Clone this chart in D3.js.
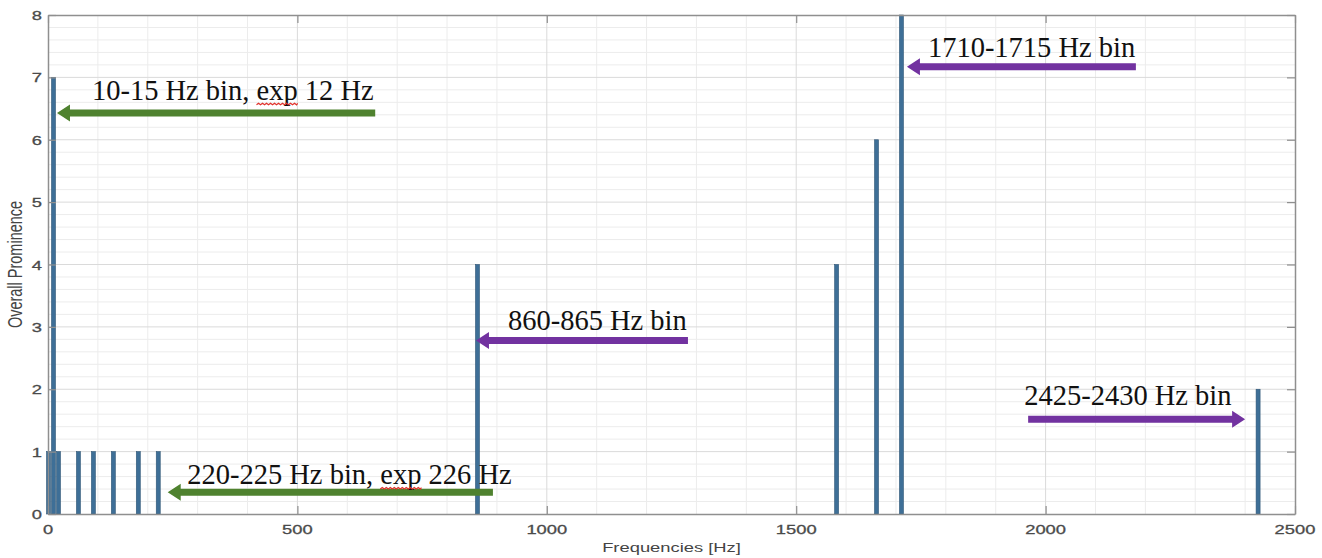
<!DOCTYPE html>
<html>
<head>
<meta charset="utf-8">
<script src="https://cdn.jsdelivr.net/npm/d3@7"></script>
<style>
  body { margin: 0; background: #ffffff; }
  svg { display: block; }
</style>
</head>
<body>
<div id="chart"></div>
<script>
// bin start frequency (Hz) and how often it showed up as prominent
const freqs = [0, 10, 20, 60, 90, 130, 180, 220, 860, 1580, 1660, 1710, 2425];
const prominence = [1, 7, 1, 1, 1, 1, 1, 1, 4, 4, 6, 8, 2];

const xTicks = [0, 500, 1000, 1500, 2000, 2500];
const yTicks = [0, 1, 2, 3, 4, 5, 6, 7, 8];

// call-outs, placed in data units (Hz, prominence)
const noteLabels = ["10-15 Hz bin, exp 12 Hz", "220-225 Hz bin, exp 226 Hz",
                    "860-865 Hz bin", "1710-1715 Hz bin", "2425-2430 Hz bin"];
const noteTextHz = [88, 279, 922, 1764, 1957];
const noteTextVal = [6.64, 0.48, 2.95, 7.33, 1.75];
const arrowFromHz = [656, 892, 1283, 2181, 1965];
const arrowToHz = [18, 240, 858, 1722, 2400];
const arrowVal = [6.43, 0.35, 2.78, 7.17, 1.52];
const arrowKind = ["green", "green", "purple", "purple", "purple"];

const W = 1322, H = 558;
const margin = { top: 15, right: 27, bottom: 44, left: 48 };
const stretch = 1.36;   // the source figure was pasted wider than it was drawn

const svg = d3.select("#chart").append("svg")
    .attr("width", W)
    .attr("height", H);

svg.append("rect").attr("width", W).attr("height", H).attr("fill", "#ffffff");

const x = d3.scaleLinear().domain([0, 2500]).range([margin.left, W - margin.right]);
const y = d3.scaleLinear().domain([0, 8]).range([H - margin.bottom, margin.top]);

const x0 = x.range()[0], x1 = x.range()[1];
const y0 = y.range()[0], y1 = y.range()[1];

// grid, minor first then major
const grid = svg.append("g");
grid.selectAll(".vminor")
    .data(d3.range(100, 2500, 100).filter(d => d % 500 !== 0))
    .enter().append("line")
    .attr("x1", d => x(d)).attr("x2", d => x(d))
    .attr("y1", y1).attr("y2", y0)
    .attr("stroke", "#ececec").attr("stroke-width", 1);
grid.selectAll(".hminor")
    .data(d3.range(0.2, 8, 0.2).filter(d => Math.abs(d - Math.round(d)) > 0.01))
    .enter().append("line")
    .attr("x1", x0).attr("x2", x1)
    .attr("y1", d => y(d)).attr("y2", d => y(d))
    .attr("stroke", "#ececec").attr("stroke-width", 1);
grid.selectAll(".vmajor")
    .data(xTicks.slice(1, -1))
    .enter().append("line")
    .attr("x1", d => x(d)).attr("x2", d => x(d))
    .attr("y1", y1).attr("y2", y0)
    .attr("stroke", "#dadada").attr("stroke-width", 1);
grid.selectAll(".hmajor")
    .data(yTicks.slice(1, -1))
    .enter().append("line")
    .attr("x1", x0).attr("x2", x1)
    .attr("y1", d => y(d)).attr("y2", d => y(d))
    .attr("stroke", "#dadada").attr("stroke-width", 1);

// bars
const barW = 4;
svg.append("g").selectAll("rect")
    .data(freqs.map((f, i) => ({ f: f, v: prominence[i] })))
    .enter().append("rect")
    .attr("x", d => x(d.f) - barW / 2 + 0.5)
    .attr("y", d => y(d.v))
    .attr("width", barW)
    .attr("height", d => y(0) - y(d.v))
    .attr("fill", "#3e6f97")
    .attr("stroke", "#2f5676")
    .attr("stroke-width", 0.6);

// axes box with inward ticks on all four sides
const axisColor = "#8f8f8f";
const tickLen = 8;
const axes = svg.append("g");

axes.append("g")
    .attr("transform", `translate(0,${y0})`)
    .call(d3.axisBottom(x).tickValues(xTicks).tickSizeInner(-tickLen).tickSizeOuter(0).tickFormat(""));
axes.append("g")
    .attr("transform", `translate(0,${y1})`)
    .call(d3.axisTop(x).tickValues(xTicks).tickSizeInner(-tickLen).tickSizeOuter(0).tickFormat(""));
axes.append("g")
    .attr("transform", `translate(${x0},0)`)
    .call(d3.axisLeft(y).tickValues(yTicks).tickSizeInner(-tickLen).tickSizeOuter(0).tickFormat(""));
axes.append("g")
    .attr("transform", `translate(${x1},0)`)
    .call(d3.axisRight(y).tickValues(yTicks).tickSizeInner(-tickLen).tickSizeOuter(0).tickFormat(""));

axes.selectAll(".domain").attr("stroke", axisColor).attr("stroke-width", 1.5);
axes.selectAll(".tick line").attr("stroke", axisColor).attr("stroke-width", 1.2);

// tick labels, stretched like the source
const labelFont = "'Liberation Sans', Arial, Helvetica, sans-serif";
svg.append("g").selectAll("text")
    .data(xTicks)
    .enter().append("text")
    .attr("transform", d => `translate(${x(d)},${y0 + 20}) scale(${stretch},1)`)
    .attr("text-anchor", "middle")
    .style("font-family", labelFont)
    .style("font-size", "13.5px")
    .attr("fill", "#4a4a4a")
    .attr("stroke", "#4a4a4a")
    .attr("stroke-width", 0.3)
    .text(d => d);

svg.append("g").selectAll("text")
    .data(yTicks)
    .enter().append("text")
    .attr("transform", d => `translate(${x0 - 6},${y(d) + 5}) scale(${stretch},1)`)
    .attr("text-anchor", "end")
    .style("font-family", labelFont)
    .style("font-size", "13.5px")
    .attr("fill", "#4a4a4a")
    .attr("stroke", "#4a4a4a")
    .attr("stroke-width", 0.3)
    .text(d => d);

svg.append("text")
    .attr("transform", `translate(${(x0 + x1) / 2},${H - 6}) scale(${stretch},1)`)
    .attr("text-anchor", "middle")
    .style("font-family", labelFont)
    .style("font-size", "13.5px")
    .attr("fill", "#444")
    .text("Frequencies [Hz]");

svg.append("text")
    .attr("transform", `translate(22,${(y0 + y1) / 2}) scale(${stretch},1) rotate(-90)`)
    .attr("text-anchor", "middle")
    .style("font-family", labelFont)
    .style("font-size", "14.5px")
    .attr("fill", "#444")
    .text("Overall Prominence");

// call-out arrows
const arrowFill = { green: "#4f822f", purple: "#7232a0" };
const shaft = 3.5, headHalf = 8.5, headLen = 13;

function arrowPath(xa, xb, yy) {
    const dir = xb < xa ? -1 : 1;
    const hx = xb - dir * headLen;
    return `M${xa},${yy - shaft} L${hx},${yy - shaft} L${hx},${yy - headHalf} L${xb},${yy} ` +
           `L${hx},${yy + headHalf} L${hx},${yy + shaft} L${xa},${yy + shaft} Z`;
}

svg.append("g").selectAll("path")
    .data(arrowVal.map((v, i) => ({ from: arrowFromHz[i], to: arrowToHz[i], v: v, kind: arrowKind[i] })))
    .enter().append("path")
    .attr("d", d => arrowPath(x(d.from), x(d.to), y(d.v)))
    .attr("fill", d => arrowFill[d.kind]);

const notes = svg.append("g").selectAll("text")
    .data(noteLabels.map((t, i) => ({ t: t, f: noteTextHz[i], v: noteTextVal[i] })))
    .enter().append("text")
    .attr("x", d => x(d.f))
    .attr("y", d => y(d.v))
    .style("font-family", "'Liberation Serif', 'Times New Roman', serif")
    .style("font-size", "28.5px")
    .attr("fill", "#111")
    .text(d => d.t);

// red spell-check squiggle under "exp", as in the pasted figure
notes.each(function (d) {
    const k = d.t.indexOf("exp");
    if (k < 0) return;
    const a = this.getStartPositionOfChar(k).x;
    const b = this.getEndPositionOfChar(k + 2).x;
    const yy = y(d.v) + 5;
    let p = `M${a},${yy}`;
    for (let xx = a, up = true; xx < b; xx += 2, up = !up) {
        p += ` L${Math.min(xx + 2, b)},${up ? yy - 1.5 : yy}`;
    }
    svg.append("path")
        .attr("d", p)
        .attr("fill", "none")
        .attr("stroke", "#e0302a")
        .attr("stroke-width", 1.2);
});
</script>
</body>
</html>
